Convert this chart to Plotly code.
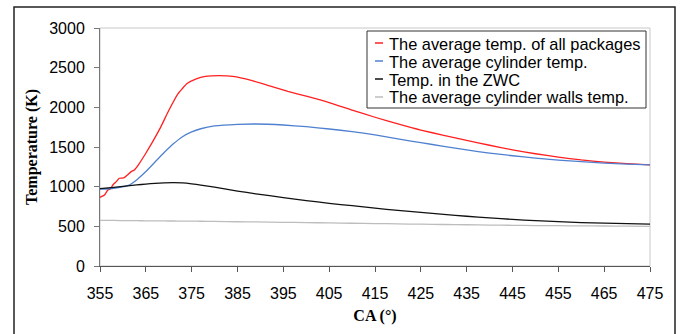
import plotly.graph_objects as go

# Crank angle (deg) and temperatures (K)
ca_red = [355, 355.5, 356, 356.7, 357.3, 357.8, 358.5, 359.2, 359.8, 360.3, 361, 361.8, 362.5, 363.6,
          365, 366.5, 368.3, 370, 372, 374, 376, 378, 381, 384, 388, 392, 396, 400, 405, 410,
          415, 420, 425, 430, 435, 440, 445, 450, 455, 460, 465, 470, 475]
t_all = [866, 880, 895, 958, 975, 1021, 1060, 1106, 1108, 1114, 1148, 1190, 1211, 1295,
         1421, 1568, 1757, 1960, 2170, 2300, 2360, 2390, 2400, 2390, 2340, 2270, 2200, 2140, 2060, 1965,
         1875, 1790, 1712, 1648, 1582, 1522, 1465, 1415, 1372, 1337, 1310, 1290, 1274]

ca = [355, 358, 361, 363, 365, 367, 369, 371, 373, 375, 377, 380, 385, 389, 395, 400, 405, 410,
      415, 420, 425, 430, 435, 440, 445, 450, 455, 460, 465, 470, 475]
t_cyl = [968, 980, 1012, 1085, 1190, 1310, 1430, 1540, 1630, 1690, 1730, 1765, 1785, 1790, 1777, 1757, 1727, 1695,
         1652, 1602, 1555, 1508, 1463, 1423, 1390, 1360, 1335, 1315, 1298, 1285, 1274]
t_zwc = [975, 992, 1010, 1022, 1032, 1042, 1048, 1051, 1048, 1036, 1020, 995, 945, 910, 862, 825, 790, 760,
         730, 700, 675, 650, 627, 606, 587, 572, 559, 548, 540, 533, 528]
t_wall = [575, 574, 572, 571, 570, 569, 568, 567, 566, 565, 564, 562, 558, 555, 551, 547, 543, 539,
          535, 531, 527, 523, 520, 516, 513, 510, 508, 506, 504, 502, 500]

names = ["The average temp. of all packages", "The average cylinder temp.",
         "Temp. in the ZWC", "The average cylinder walls temp."]
colors = ["#ff2020", "#4f81d0", "#111111", "#bdbdbd"]

x_ticks = list(range(355, 476, 10))
y_ticks = list(range(0, 3001, 500))

fig = go.Figure()
series = [(ca_red, t_all), (ca, t_cyl), (ca, t_zwc), (ca, t_wall)]
for (xs, ys), n, c in zip(series, names, colors):
    fig.add_trace(go.Scatter(x=xs, y=ys, mode="lines", name=n, showlegend=False,
                             line=dict(color=c, width=1.3, shape="spline", smoothing=0.4)))

W, H = 680, 334
L, R, T, B = 100, 30, 28, 68
pw, ph = W - L - R, H - T - B


def px(x):
    return (x - L) / pw


def py(y):
    return (H - B - y) / ph


fig.update_layout(
    width=W, height=H,
    margin=dict(l=L, r=R, t=T, b=B),
    paper_bgcolor="white", plot_bgcolor="white",
    font=dict(family="Arial, Liberation Sans, sans-serif", size=16, color="black"),
    showlegend=False,
    xaxis=dict(range=[355, 475], tickvals=x_ticks, ticks="outside", ticklen=5,
               tickcolor="#555555", showline=True, linecolor="#555555", linewidth=1,
               showgrid=False, zeroline=False, ticklabelstandoff=8,
               title=dict(text="<b>CA (°)</b>", standoff=8,
                          font=dict(family="Liberation Serif, Times New Roman, serif", size=16))),
    yaxis=dict(range=[0, 3000], tickvals=y_ticks, ticks="outside", ticklen=5,
               tickcolor="#777777", showline=True, linecolor="#777777", linewidth=1,
               showgrid=False, zeroline=False, ticklabelstandoff=6,
               title=dict(text="<b>Temperature (K)</b>", standoff=7,
                          font=dict(family="Liberation Serif, Times New Roman, serif", size=16))),
)

# light grey plot-area frame (top and right)
fig.add_shape(type="rect", xref="paper", yref="paper", x0=0, y0=0, x1=1, y1=1,
              line=dict(color="#c8c8c8", width=1), layer="below")
# outer chart border
fig.add_shape(type="rect", xref="paper", yref="paper",
              x0=px(14), x1=px(675), y0=-0.6, y1=py(7),
              line=dict(color="#222222", width=1.5))

# legend box
fig.add_shape(type="rect", xref="paper", yref="paper",
              x0=px(367), x1=px(646), y0=py(108), y1=py(31),
              line=dict(color="#333333", width=1), fillcolor="white")
row_y = [43, 61, 79, 97]
for n, c, yy in zip(names, colors, row_y):
    fig.add_shape(type="line", xref="paper", yref="paper",
                  x0=px(375), x1=px(383), y0=py(yy), y1=py(yy),
                  line=dict(color=c, width=1.5))
    fig.add_annotation(xref="paper", yref="paper", x=px(387), y=py(yy + 0.5),
                       xanchor="left", yanchor="middle", showarrow=False,
                       text=n, font=dict(size=16.4, color="black"))

fig.write_html("out.html")
